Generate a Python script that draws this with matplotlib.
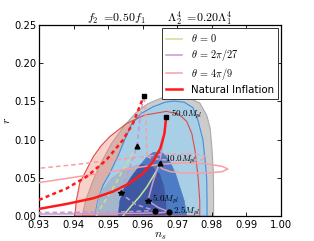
import numpy as np
import matplotlib
matplotlib.use("Agg")
import matplotlib.pyplot as plt
from matplotlib.patches import Polygon
from matplotlib.lines import Line2D

plt.rcParams['mathtext.fontset'] = 'cm'
plt.rcParams['font.family'] = ['DejaVu Sans']

# ---- confidence regions (ns, r) boundaries ----
gray95_ns = [0.9425, 0.9435, 0.9455, 0.948, 0.951, 0.9545, 0.958, 0.9615, 0.9655, 0.9695, 0.973, 0.9765, 0.9785, 0.9795, 0.980, 0.9804, 0.9805, 0.9805]
gray95_r  = [0.0, 0.02, 0.045, 0.07, 0.095, 0.117, 0.135, 0.147, 0.1545, 0.1565, 0.155, 0.148, 0.132, 0.115, 0.09, 0.06, 0.03, 0.0]

red95_ns = [0.9404, 0.9408, 0.9418, 0.9437, 0.9457, 0.948, 0.9505, 0.9553, 0.9605, 0.9669, 0.9705, 0.9727, 0.9742, 0.9751, 0.976, 0.9765, 0.9765]
red95_r  = [0.0, 0.02, 0.043, 0.06, 0.0776, 0.092, 0.104, 0.121, 0.132, 0.137, 0.133, 0.124, 0.108, 0.0864, 0.0514, 0.02, 0.0]

blue95_ns = [0.9462, 0.947, 0.9485, 0.9505, 0.953, 0.955, 0.9568, 0.9595, 0.963, 0.9665, 0.969, 0.972, 0.9745, 0.976, 0.9774, 0.978, 0.9785, 0.9786, 0.9786]
blue95_r  = [0.0, 0.02, 0.04, 0.056, 0.08, 0.102, 0.12, 0.134, 0.143, 0.149, 0.1505, 0.149, 0.142, 0.125, 0.1, 0.075, 0.05, 0.02, 0.0]

gray68_ns = [0.9455, 0.946, 0.948, 0.951, 0.955, 0.959, 0.9625, 0.965, 0.9662, 0.9668, 0.9668]
gray68_r  = [0.0, 0.015, 0.033, 0.05, 0.062, 0.068, 0.066, 0.055, 0.038, 0.02, 0.0]

blue68_ns = [0.9529, 0.9534, 0.9545, 0.9565, 0.959, 0.961, 0.963, 0.965, 0.9665, 0.968, 0.9695, 0.9707, 0.972, 0.9727]
blue68_r  = [0.0, 0.02, 0.035, 0.05, 0.065, 0.076, 0.083, 0.084, 0.08, 0.07, 0.055, 0.038, 0.02, 0.0]

# ---- model curves ----
ni_solid_ns = [0.93, 0.938, 0.9457, 0.9514, 0.9562, 0.9601, 0.963, 0.9651, 0.9663, 0.9668]
ni_solid_r  = [0.0092, 0.0157, 0.0231, 0.0319, 0.0428, 0.0559, 0.0711, 0.0886, 0.1082, 0.130]
ni_dash_ns = [0.93, 0.938, 0.9438, 0.9495, 0.9543, 0.9572, 0.9591, 0.9603]
ni_dash_r  = [0.021, 0.036, 0.0515, 0.0733, 0.0995, 0.1213, 0.1431, 0.1566]

th0_solid_ns = [0.9543, 0.9565, 0.9591, 0.9612, 0.963, 0.9642, 0.9649]
th0_solid_r  = [0.0, 0.012, 0.0253, 0.038, 0.0515, 0.061, 0.0698]
th0_dash_ns = [0.9466, 0.948, 0.9505, 0.9525, 0.9543, 0.9565, 0.9584]
th0_dash_r  = [0.0, 0.012, 0.0297, 0.045, 0.0602, 0.077, 0.0920]

th1_solid_ns = [0.9668, 0.966, 0.9649, 0.963, 0.9615, 0.9645, 0.9675, 0.966, 0.96, 0.95, 0.93]
th1_solid_r  = [0.130, 0.10, 0.0698, 0.045, 0.0201, 0.011, 0.0057, 0.0045, 0.0035, 0.003, 0.0025]
th1_dash_ns = [0.9603, 0.959, 0.9584, 0.956, 0.9536, 0.958, 0.9635, 0.955, 0.945, 0.93]
th1_dash_r  = [0.1566, 0.12, 0.092, 0.06, 0.0297, 0.015, 0.007, 0.0055, 0.005, 0.0045]

th2_solid_ns = [0.93, 0.9476, 0.962, 0.966, 0.972, 0.978, 0.983, 0.9846, 0.983, 0.978, 0.972, 0.968, 0.9655, 0.965]
th2_solid_r  = [0.0436, 0.0558, 0.0658, 0.068, 0.0695, 0.0685, 0.065, 0.0615, 0.058, 0.056, 0.0562, 0.058, 0.062, 0.066]
th2_dash_ns = [0.9605, 0.961, 0.9612, 0.965, 0.972, 0.977, 0.9785, 0.977, 0.972, 0.966, 0.9625, 0.9612, 0.95, 0.94, 0.93]
th2_dash_r  = [0.155, 0.12, 0.078, 0.0805, 0.081, 0.0805, 0.077, 0.0735, 0.073, 0.0735, 0.0755, 0.078, 0.0725, 0.067, 0.0624]

# ---- markers ----
sq_ns, sq_r = [0.9603, 0.9668], [0.1566, 0.130]
tri_ns, tri_r = [0.9584, 0.9649], [0.092, 0.0698]
star_ns, star_r = [0.9536, 0.9615], [0.0297, 0.0201]
circ_ns, circ_r = [0.9635, 0.9675], [0.007, 0.0057]

labels = [r'$50.0M_{pl}$', r'$10.0M_{pl}$', r'$5.0M_{pl}$', r'$2.5M_{pl}$']
label_ns = [0.9682, 0.9665, 0.9628, 0.9688]
label_r = [0.1335, 0.0735, 0.0215, 0.0062]

xticks = [0.93, 0.94, 0.95, 0.96, 0.97, 0.98, 0.99, 1.00]
yticks = [0.00, 0.05, 0.10, 0.15, 0.20, 0.25]

fig = plt.figure(figsize=(3.14, 2.41), dpi=100)
ax = fig.add_axes([0.124, 0.104, 0.771, 0.792])

def poly(ns, r, **kw):
    p = Polygon(np.column_stack([ns, r]), closed=True, **kw)
    ax.add_patch(p)
    return p

poly(gray95_ns, gray95_r, facecolor='#cccccc', edgecolor='#a9a9a9', lw=0.8, zorder=1)
poly(red95_ns, red95_r, facecolor='#f08270', edgecolor='none', alpha=0.36, zorder=2)
b95 = poly(blue95_ns, blue95_r, facecolor='#a9cfe6', edgecolor='#3d8fe0', lw=0.8, zorder=3)
g68 = poly(gray68_ns, gray68_r, facecolor='#a3b6cb', edgecolor='none', zorder=4)
g68.set_clip_path(b95)
b68 = poly(blue68_ns, blue68_r, facecolor='#4c7cc5', edgecolor='#4c7cc5', lw=0.5, zorder=5)
nav = poly(gray68_ns, gray68_r, facecolor='#3f58a4', edgecolor='none', zorder=6)
nav.set_clip_path(b68)
poly(red95_ns, red95_r, facecolor='none', edgecolor='#e04a45', lw=0.8, zorder=7)

green = '#c8e38c'
purple = '#c39ad2'
pink = '#f5a0a4'
red = '#ff1a1a'

ax.plot(th0_solid_ns, th0_solid_r, color=green, lw=1.1, zorder=8)
ax.plot(th0_dash_ns, th0_dash_r, color=green, lw=1.1, ls=(0, (3, 2)), zorder=8)
ax.plot(th1_solid_ns, th1_solid_r, color=purple, lw=1.1, zorder=8)
ax.plot(th1_dash_ns, th1_dash_r, color=purple, lw=1.1, ls=(0, (3, 2)), zorder=8)
ax.plot(th2_solid_ns, th2_solid_r, color=pink, lw=1.1, zorder=8)
ax.plot(th2_dash_ns, th2_dash_r, color=pink, lw=1.1, ls=(0, (3, 2)), zorder=8)
ax.plot(ni_solid_ns, ni_solid_r, color=red, lw=1.8, zorder=9)
ax.plot(ni_dash_ns, ni_dash_r, color=red, lw=1.8, ls=(0, (1.6, 1.3)), zorder=9)

ax.plot(sq_ns, sq_r, 's', color='k', ms=3.5, zorder=10)
ax.plot(tri_ns, tri_r, '^', color='k', ms=3.5, zorder=10)
ax.plot(star_ns, star_r, '*', color='k', ms=4, zorder=10)
ax.plot(circ_ns, circ_r, 'o', color='k', ms=3.5, zorder=10)
for t, x, y in zip(labels, label_ns, label_r):
    ax.text(x, y, t, fontsize=6.5, ha='left', va='center', zorder=11)

ax.set_xlim(0.93, 1.00)
ax.set_ylim(0.0, 0.25)
ax.set_xticks(xticks)
ax.set_yticks(yticks)
ax.set_xticklabels(['%.2f' % v for v in xticks])
ax.set_yticklabels(['%.2f' % v for v in yticks])
ax.tick_params(direction='in', top=True, right=True, labelsize=7.2, length=3, width=0.6)
ax.tick_params(axis='x', pad=3)
ax.tick_params(axis='y', pad=2)
for s in ax.spines.values():
    s.set_linewidth(0.9)
ax.set_xlabel(r'$n_s$', fontsize=8.5, labelpad=-1)
ax.set_ylabel(r'$r$', fontsize=8.5, labelpad=1)
ax.set_title(r'$f_2\ =\!0.50f_1$      $\Lambda_2^4\ =\!0.20\Lambda_1^4$', fontsize=8.6, pad=2)

handles = [Line2D([], [], color=green, lw=1.1),
           Line2D([], [], color=purple, lw=1.1),
           Line2D([], [], color=pink, lw=1.1),
           Line2D([], [], color=red, lw=1.8)]
leg = ax.legend(handles, [r'$\theta\,=\,0$', r'$\theta\,=\,2\pi/27$', r'$\theta\,=\,4\pi/9$', 'Natural Inflation'],
                loc='upper right', fontsize=7.4, fancybox=False, framealpha=1,
                edgecolor='#333333', borderaxespad=0.3, handlelength=1.6,
                labelspacing=0.28, borderpad=0.4, handletextpad=0.8)
leg.get_frame().set_linewidth(0.7)
leg.set_zorder(20)

fig.savefig('out.png', dpi=100)
